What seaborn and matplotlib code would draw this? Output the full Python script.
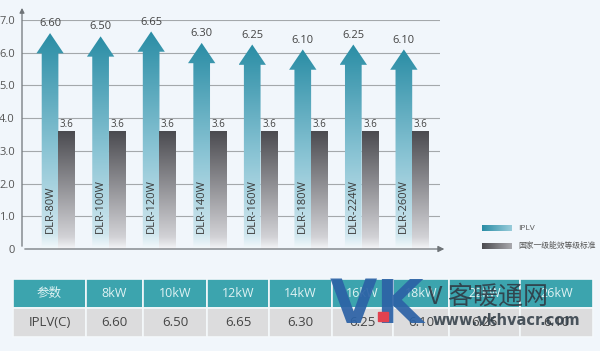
import numpy as np
import pandas as pd
import seaborn as sns
import matplotlib.pyplot as plt
from matplotlib.colors import LinearSegmentedColormap
from matplotlib.patches import Polygon, Rectangle

models = ["DLR-80W", "DLR-100W", "DLR-120W", "DLR-140W", "DLR-160W", "DLR-180W", "DLR-224W", "DLR-260W"]
iplv = [6.60, 6.50, 6.65, 6.30, 6.25, 6.10, 6.25, 6.10]
standard = [3.6, 3.6, 3.6, 3.6, 3.6, 3.6, 3.6, 3.6]
series_names = ["IPLV", "国家一级能效等级标准"]
table_header = ["参数", "8kW", "10kW", "12kW", "14kW", "16kW", "18kW", "22kW", "26kW"]
table_row = ["IPLV(C)", "6.60", "6.50", "6.65", "6.30", "6.25", "6.10", "6.25", "6.10"]

BG = "#f1f6fb"
teal_cmap = LinearSegmentedColormap.from_list("teal", [(0, "#f4f9fc"), (0.07, "#cfe6ee"), (0.45, "#8cc5d5"), (1, "#2a8da5")])
grey_cmap = LinearSegmentedColormap.from_list("grey", [(0, "#f4f5f8"), (0.1, "#d2d2d6"), (1, "#4b4b50")])

sns.set_style("white")
plt.rcParams["font.family"] = ["Open Sans", "Noto Sans CJK SC", "DejaVu Sans"]

df = pd.DataFrame({
    "model": models * 2,
    "series": [series_names[0]] * len(models) + [series_names[1]] * len(models),
    "value": iplv + standard,
})

fig = plt.figure(figsize=(6, 3.51), dpi=100, facecolor=BG)
ax = fig.add_axes([22 / 600, 102 / 351, 418 / 600, 229 / 351])
ax.set_facecolor(BG)

sns.barplot(data=df, x="model", y="value", hue="series", width=0.66, dodge=True,
            palette=["#2a8da5", "#4b4b50"], legend=False, ax=ax)

n = len(models)
grad = np.linspace(0, 1, 256).reshape(-1, 1)
bars = ax.patches[:2 * n]
for k, p in enumerate(bars):
    x0, w, h = p.get_x(), p.get_width(), p.get_height()
    p.set_visible(False)
    cx = x0 + w / 2
    if k < n:
        hh = 0.62
        hw = w * 0.82
        pts = [(x0, 0), (x0, h - hh), (cx - hw, h - hh), (cx, h), (cx + hw, h - hh), (x0 + w, h - hh), (x0 + w, 0)]
        shape = Polygon(pts, closed=True, fill=False, edgecolor="none")
        ax.add_patch(shape)
        im = ax.imshow(grad, cmap=teal_cmap, origin="lower", aspect="auto",
                       extent=[cx - hw, cx + hw, 0, h], zorder=2)
        im.set_clip_path(shape)
        ax.text(cx, h + 0.12, f"{iplv[k]:.2f}", ha="center", va="bottom", fontsize=8, color="#444444")
        ax.text(cx, 0.5, models[k], rotation=90, ha="center", va="bottom", fontsize=8, color="#3a3a3a", zorder=3)
    else:
        shape = Rectangle((x0, 0), w, h, fill=False, edgecolor="none")
        ax.add_patch(shape)
        im = ax.imshow(grad, cmap=grey_cmap, origin="lower", aspect="auto",
                       extent=[x0, x0 + w, 0, h], zorder=2)
        im.set_clip_path(shape)
        ax.text(cx, h + 0.05, f"{standard[k - n]}", ha="center", va="bottom", fontsize=7, color="#444444")

ax.set_xlim(-0.72, n - 0.45)
ax.set_ylim(0, 7)
ax.set_yticks(range(8))
ax.set_yticklabels(["0", "1.0", "2.0", "3.0", "4.0", "5.0", "6.0", "7.0"], fontsize=8, color="#555555")
ax.tick_params(axis="y", length=0, pad=5)
ax.set_xticks([])
ax.set_xlabel("")
ax.set_ylabel("")
for s in ax.spines.values():
    s.set_visible(False)
for yv in range(1, 8):
    ax.axhline(yv, color="#a4a8ab", lw=0.8, zorder=1)
ax.annotate("", xy=(0, 1.065), xytext=(0, 0), xycoords="axes fraction",
            arrowprops=dict(arrowstyle="-|>", color="#6f7478", lw=0.9, mutation_scale=7), annotation_clip=False)
ax.annotate("", xy=(1.017, 0), xytext=(0, 0), xycoords="axes fraction",
            arrowprops=dict(arrowstyle="-|>", color="#6f7478", lw=0.9, mutation_scale=9), annotation_clip=False)

# overlay in pixel coordinates for legend, table and watermark
ov = fig.add_axes([0, 0, 1, 1])
ov.set_xlim(0, 600)
ov.set_ylim(351, 0)
ov.axis("off")
ov.patch.set_alpha(0)

lg = np.linspace(0, 1, 64).reshape(1, -1)
ov.imshow(lg[:, ::-1], cmap=teal_cmap, extent=[482, 512, 231, 225], aspect="auto", vmin=-0.6, vmax=1)
ov.imshow(lg[:, ::-1], cmap=grey_cmap, extent=[482, 512, 249, 243], aspect="auto", vmin=-0.6, vmax=1)
ov.text(518, 228, series_names[0], va="center", fontsize=6, color="#555555")
ov.text(518, 246, series_names[1], va="center", fontsize=5.6, color="#555555")
ov.set_xlim(0, 600)
ov.set_ylim(351, 0)

col_px = [13, 86, 143, 207, 269, 332, 393, 449, 520, 593]
widths = np.diff(col_px) / (col_px[-1] - col_px[0])
tbl = ov.table(cellText=[table_header, table_row], colWidths=list(widths),
               bbox=[13 / 600, (351 - 337) / 351, 580 / 600, 58 / 351], cellLoc="center")
tbl.auto_set_font_size(False)
for (r, c), cell in tbl.get_celld().items():
    cell.set_edgecolor("#f4f8fb")
    cell.set_linewidth(1.2)
    if r == 0:
        cell.set_facecolor("#3ca4ae")
        cell.get_text().set_color("#dff2f3")
        cell.get_text().set_fontsize(9)
    else:
        cell.set_facecolor("#dcdcdd")
        cell.get_text().set_color("#454545")
        cell.get_text().set_fontsize(9.5)

# watermark
ov.text(330, 323, "VK", fontsize=44, fontweight="bold", color="#2c62a6", alpha=0.92,
        family="DejaVu Sans", va="baseline", zorder=5)
ov.add_patch(Rectangle((378, 312), 10, 9, color="#e2414f", zorder=6))
ov.text(428, 304, "V 客暖通网", fontsize=18, color="#2f3b45", alpha=0.9, va="baseline",
        family=["Noto Sans CJK SC", "DejaVu Sans"], zorder=5)
ov.text(432, 325, "www.vkhvacr.com", fontsize=10.5, fontweight="bold", color="#2f3b45", alpha=0.85,
        family="DejaVu Sans", va="baseline", zorder=5)

fig.savefig("out.png", dpi=100, facecolor=BG)
